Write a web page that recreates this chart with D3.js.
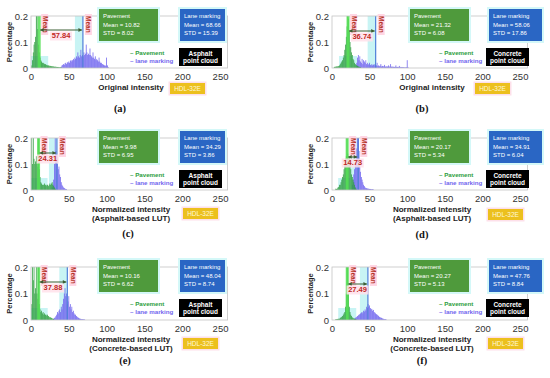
<!DOCTYPE html>
<html>
<head>
<meta charset="utf-8">
<script src="https://cdn.jsdelivr.net/npm/d3@7"></script>
<style>
  body { margin: 0; background: #fff; }
  svg { display: block; font-family: "Liberation Sans", Arial, sans-serif; }
</style>
</head>
<body>
<svg id="chart" width="550" height="378"></svg>
<script>
// histogram values (percentage per intensity bin), start = first intensity bin
const pavA = [0.01,0.03,0.06,0.09,0.1,0.12,0.24,0.26,0.15,0.09,0.06,0.04,0.03,0.025,0.02,0.02,0.018,0.015,0.015,0.012,0.012,0.01,0.01,0.009,0.008,0.008,0.007,0.007,0.006,0.006,0.005,0.005,0.005,0.004,0.004,0.004,0.003,0.003,0.003,0.002];
const laneA = [0.005,0.01,0.012,0.015,0.012,0.018,0.02,0.015,0.022,0.02,0.025,0.02,0.028,0.03,0.025,0.03,0.035,0.03,0.04,0.035,0.045,0.04,0.06,0.045,0.04,0.05,0.07,0.045,0.05,0.045,0.06,0.05,0.055,0.09,0.06,0.05,0.055,0.05,0.075,0.05,0.045,0.04,0.06,0.04,0.035,0.045,0.03,0.035,0.03,0.025,0.04,0.025,0.02,0.02,0.015,0.015,0.012,0.01,0.01,0.008,0.04,0.01,0.004];
const pavB = [0.004,0.005,0.005,0.006,0.006,0.007,0.008,0.01,0.015,0.02,0.025,0.03,0.04,0.05,0.07,0.09,0.12,0.16,0.24,0.19,0.14,0.1,0.08,0.06,0.05,0.035,0.03,0.02,0.015,0.012,0.01,0.008,0.006,0.005,0.004,0.003];
const laneB = [0.02,0.04,0.05,0.03,0.045,0.025,0.02,0.035,0.015,0.03,0.025,0.02,0.03,0.015,0.02,0.012,0.015,0.02,0.012,0.01,0.015,0.01,0.012,0.015,0.01,0.012,0.01,0.02,0.008,0.01,0.007,0.009,0.015,0.006,0.008,0.006,0.007,0.012,0.005,0.007,0.005,0.006,0.01,0.005,0.006,0.015,0.005,0.006,0.004,0.005,0.004,0.005,0.01,0.004,0.004,0.005,0.003,0.008,0.003,0.003,0.004,0.003,0.003,0.002,0.003,0.002,0.003,0.03,0.004];
const pavC = [0.22,0.1,0.22,0.12,0.1,0.11,0.13,0.1,0.09,0.22,0.08,0.05,0.03,0.025,0.02,0.02,0.02,0.025,0.02,0.015,0.02,0.02,0.015,0.02,0.025,0.02,0.025,0.03,0.02,0.015,0.01,0.005];
const laneC = [0.01,0.02,0.04,0.1,0.25,0.15,0.12,0.1,0.08,0.09,0.06,0.05,0.03,0.02,0.015,0.01,0.008,0.005,0.004,0.003];
const pavD = [0.005,0.004,0.006,0.01,0.012,0.02,0.02,0.03,0.04,0.05,0.06,0.08,0.1,0.12,0.13,0.22,0.14,0.12,0.13,0.1,0.08,0.06,0.05,0.04,0.03,0.02,0.01,0.005];
const laneD = [0.02,0.04,0.06,0.08,0.1,0.12,0.16,0.22,0.2,0.15,0.1,0.07,0.05,0.04,0.03,0.02,0.015,0.01,0.008,0.007,0.006,0.005,0.005,0.004,0.004,0.003,0.003,0.003,0.002];
const pavE = [0.06,0.22,0.15,0.25,0.1,0.12,0.22,0.1,0.08,0.22,0.06,0.04,0.03,0.035,0.025,0.03,0.02,0.025,0.02,0.02,0.015,0.02,0.015,0.012,0.01,0.01,0.008,0.006,0.005,0.004];
const laneE = [0.005,0.008,0.01,0.015,0.02,0.03,0.025,0.035,0.04,0.03,0.05,0.04,0.06,0.08,0.1,0.12,0.09,0.1,0.06,0.07,0.09,0.05,0.06,0.04,0.05,0.03,0.035,0.025,0.02,0.02,0.015,0.012,0.01,0.008,0.006,0.005,0.004,0.003,0.003,0.003,0.002,0.002];
const pavF = [0.003,0.003,0.004,0.004,0.005,0.005,0.008,0.01,0.012,0.015,0.02,0.025,0.03,0.05,0.1,0.22,0.22,0.1,0.05,0.03,0.02,0.015,0.01,0.008,0.006,0.005,0.004,0.003];
const laneF = [0.005,0.008,0.01,0.012,0.015,0.018,0.02,0.022,0.025,0.028,0.03,0.025,0.035,0.032,0.04,0.035,0.05,0.045,0.06,0.05,0.055,0.045,0.04,0.042,0.035,0.038,0.03,0.028,0.025,0.022,0.02,0.018,0.015,0.012,0.01,0.009,0.008,0.006,0.005,0.004,0.003,0.003,0.002];

const pavHists = [pavA, pavB, pavC, pavD, pavE, pavF];
const laneHists = [laneA, laneB, laneC, laneD, laneE, laneF];
const pavStart = [1, 3, 1, 5, 1, 5];
const laneStart = [40, 33, 28, 27, 30, 30];

const pavMean = [10.82, 21.32, 9.98, 20.17, 10.16, 20.27];
const pavStd = [8.02, 6.08, 6.95, 5.34, 6.62, 5.13];
const laneMean = [68.66, 58.06, 34.29, 34.91, 48.04, 47.76];
const laneStd = [15.39, 17.86, 3.86, 6.04, 8.74, 8.84];
const gapLabel = ["57.84", "36.74", "24.31", "14.73", "37.88", "27.49"];

const cloudName = ["Asphalt", "Concrete", "Asphalt", "Concrete", "Asphalt", "Concrete"];
const xTitle = [["Original intensity"], ["Original intensity"],
  ["Normalized intensity", "(Asphalt-based LUT)"], ["Normalized intensity", "(Asphalt-based LUT)"],
  ["Normalized intensity", "(Concrete-based LUT)"], ["Normalized intensity", "(Concrete-based LUT)"]];
const panelTag = ["(a)", "(b)", "(c)", "(d)", "(e)", "(f)"];
const xTicks = [0, 50, 100, 150, 200, 250];
const yTicks = [0, 0.1, 0.2];

// layout per column / row
const colX = [[31, 227.6], [332, 527.5]];
const rowY = [[68, 16], [190, 138], [320, 267]];
const tagPos = [[120, 112], [422, 112], [128, 237], [422, 238], [125, 364], [422, 364]];
const hdlPos = [[170, 83], [475, 83], [183, 208], [488, 209], [183, 338], [488, 338]];
const arrowY = [30, 31, 153, 157, 282, 284];

const svg = d3.select("#chart");
const green = "#2e9e3e", blue = "#6d62ee";

for (let i = 0; i < 6; i++) {
  const col = i % 2, row = Math.floor(i / 2);
  const x = d3.scaleLinear().domain([0, 260]).range(colX[col]);
  const y = d3.scaleLinear().domain([0, 0.2]).range(rowY[row]);
  const g = svg.append("g");
  const x0 = x(0), top = y(0.2), bot = y(0), right = x(260);
  const bw = x(1) - x(0);

  const clipId = "clip" + i;
  g.append("clipPath").attr("id", clipId).append("rect")
    .attr("x", x0).attr("y", top).attr("width", right - x0).attr("height", bot - top);
  const plot = g.append("g").attr("clip-path", `url(#${clipId})`);

  // cyan highlight band left of lane mean
  plot.append("rect").attr("x", x(laneMean[i]) - 8).attr("y", top)
    .attr("width", 8).attr("height", bot - top).attr("fill", "#c8f4f4");
  // cyan band around pavement base
  plot.append("rect").attr("x", x(pavMean[i]) - 9).attr("y", bot - 12)
    .attr("width", 18).attr("height", 12).attr("fill", "#c8f4f4");

  const bars = (vals, start, color) => plot.append("g").selectAll("rect")
    .data(vals).join("rect")
    .attr("x", (d, k) => x(start + k - 0.5))
    .attr("width", bw)
    .attr("y", d => y(d))
    .attr("height", d => bot - y(d))
    .attr("fill", color);
  bars(laneHists[i], laneStart[i], blue);
  bars(pavHists[i], pavStart[i], green);

  // mean lines
  plot.append("rect").attr("x", x(pavMean[i]) - 1.5).attr("y", top)
    .attr("width", 3).attr("height", bot - top).attr("fill", "#55e055").attr("opacity", 0.85);
  plot.append("line").attr("x1", x(laneMean[i])).attr("x2", x(laneMean[i]))
    .attr("y1", top).attr("y2", bot).attr("stroke", "#4f7fd8").attr("stroke-width", 1.2);

  // frame
  g.append("rect").attr("x", x0).attr("y", top).attr("width", right - x0).attr("height", bot - top)
    .attr("fill", "none").attr("stroke", "#c4c4c4").attr("stroke-width", 0.8);

  // "Mean" tags
  [pavMean[i], laneMean[i]].forEach(m => {
    const mx = x(m) + 2;
    g.append("rect").attr("x", mx).attr("y", top - 2).attr("width", 7).attr("height", 21)
      .attr("fill", "#ffd6e4");
    g.append("text").attr("transform", `translate(${mx + 1.5},${top})rotate(90)`)
      .attr("font-size", 6.5).attr("font-weight", "bold").attr("fill", "#b3301c").text("Mean");
  });

  // distance arrow
  const ax1 = x(pavMean[i]) + 1, ax2 = x(laneMean[i]) - 1, ay = arrowY[i];
  g.append("line").attr("x1", ax1).attr("x2", ax2).attr("y1", ay).attr("y2", ay)
    .attr("stroke", "#3b5e33").attr("stroke-width", 1);
  [[ax1, 1], [ax2, -1]].forEach(([px, s]) => {
    g.append("path").attr("d", `M${px},${ay}L${px + 3.5 * s},${ay - 2}L${px + 3.5 * s},${ay + 2}Z`)
      .attr("fill", "#3b5e33");
  });
  const lx = (ax1 + ax2) / 2, ly = ay + 8;
  g.append("rect").attr("x", lx - 11).attr("y", ly - 6.5).attr("width", 22).attr("height", 9)
    .attr("fill", "#ffe0ea").attr("opacity", 0.85);
  g.append("text").attr("x", lx).attr("y", ly).attr("text-anchor", "middle")
    .attr("font-size", 7.5).attr("font-weight", "bold").attr("fill", "#c0281e").text(gapLabel[i]);

  // axes
  const ax = g.append("g").attr("transform", `translate(0,${bot})`)
    .call(d3.axisBottom(x).tickValues(xTicks).tickSize(0).tickPadding(5));
  const ay2 = g.append("g").attr("transform", `translate(${x0},0)`)
    .call(d3.axisLeft(y).tickValues(yTicks).tickSize(0).tickPadding(3).tickFormat(d => d === 0 ? "0" : d));
  [ax, ay2].forEach(a => {
    a.select(".domain").remove();
    a.selectAll("text").attr("font-size", 9.5).attr("fill", "#333")
      .attr("font-family", "Liberation Sans, Arial, sans-serif");
  });

  // axis titles
  g.append("text").attr("transform", `translate(${x0 - 19},${(top + bot) / 2})rotate(-90)`)
    .attr("text-anchor", "middle").attr("font-size", 7.5).attr("font-weight", "bold")
    .attr("fill", "#222").text("Percentage");
  xTitle[i].forEach((t, k) => {
    g.append("text").attr("x", x0 + 100).attr("y", bot + 22 + k * 9).attr("text-anchor", "middle")
      .attr("font-size", 8).attr("font-weight", "bold").attr("fill", "#222").text(t);
  });

  // info boxes
  const bx = col === 0 ? 0 : 311;
  const boxTop = top - 7;
  const info = (x1, w, fill, lines) => {
    g.append("rect").attr("x", x1 - 2).attr("y", boxTop - 2).attr("width", w + 4).attr("height", 36)
      .attr("fill", "#d4f8f8");
    g.append("rect").attr("x", x1).attr("y", boxTop).attr("width", w).attr("height", 32).attr("fill", fill);
    lines.forEach((t, k) => g.append("text").attr("x", x1 + 4).attr("y", boxTop + 9 + k * 8.5)
      .attr("font-size", 6).attr("fill", "#fff").text(t));
  };
  info(99 + bx, 59, "#4f9a3c", ["Pavement", `Mean = ${pavMean[i].toFixed(2)}`, `STD = ${pavStd[i].toFixed(2)}`]);
  info((col === 0 ? 180 : 489), col === 0 ? 45 : 53, "#2a66c4", ["Lane marking", `Mean = ${laneMean[i].toFixed(2)}`, `STD = ${laneStd[i].toFixed(2)}`]);

  // legend
  const legX = col === 0 ? 130 : 439;
  g.append("text").attr("x", legX).attr("y", top + 39).attr("font-size", 6.2).attr("font-weight", "bold")
    .attr("fill", "#2e9e3e").text("– Pavement");
  g.append("text").attr("x", legX).attr("y", top + 46.5).attr("font-size", 6.2).attr("font-weight", "bold")
    .attr("fill", "#7366ee").text("– lane marking");

  // point cloud label
  const cx = col === 0 ? 179 : 486;
  g.append("rect").attr("x", cx).attr("y", top + 32).attr("width", 43).attr("height", 18).attr("fill", "#000");
  g.append("text").attr("x", cx + 21.5).attr("y", top + 39.5).attr("text-anchor", "middle")
    .attr("font-size", 6.5).attr("font-weight", "bold").attr("fill", "#fff").text(cloudName[i]);
  g.append("text").attr("x", cx + 21.5).attr("y", top + 47).attr("text-anchor", "middle")
    .attr("font-size", 6.5).attr("font-weight", "bold").attr("fill", "#fff").text("point cloud");

  // sensor tag
  const [hx, hy] = hdlPos[i];
  g.append("rect").attr("x", hx - 1.5).attr("y", hy - 1.5).attr("width", 38).attr("height", 14).attr("fill", "#fde0ea");
  g.append("rect").attr("x", hx).attr("y", hy).attr("width", 35).attr("height", 11).attr("fill", "#ecc01e");
  g.append("text").attr("x", hx + 17.5).attr("y", hy + 8).attr("text-anchor", "middle")
    .attr("font-size", 6.5).attr("fill", "#fff8d8").text("HDL-32E");

  // panel tag
  g.append("text").attr("x", tagPos[i][0]).attr("y", tagPos[i][1]).attr("text-anchor", "middle")
    .attr("font-family", "Liberation Serif, serif").attr("font-size", 10.5).attr("font-weight", "bold")
    .attr("fill", "#111").text(panelTag[i]);
}
</script>
</body>
</html>
